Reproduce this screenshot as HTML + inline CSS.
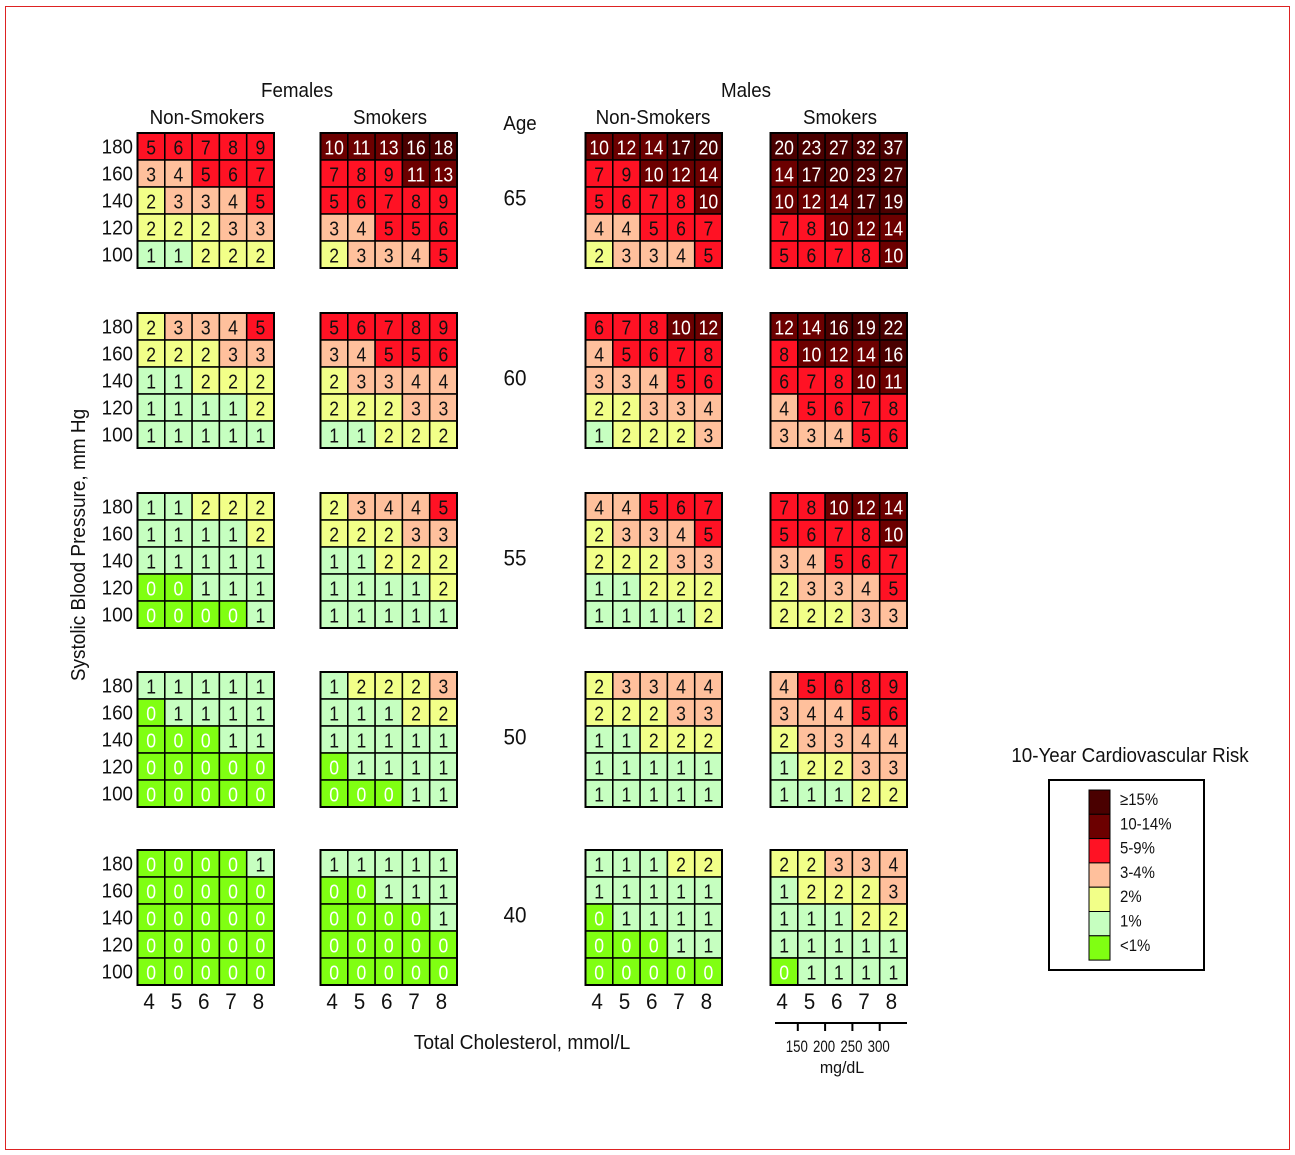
<!DOCTYPE html>
<html><head><meta charset="utf-8"><style>
body{margin:0;background:#fff}
svg{display:block}
text{font-family:"Liberation Sans",sans-serif;fill:#111}
</style></head><body>
<svg id="chart" width="1295" height="1155" xmlns="http://www.w3.org/2000/svg">
<rect x="5.5" y="6.5" width="1284" height="1143" fill="#fff" stroke="#d22" stroke-width="1"/>
</svg>
<script>
const ages = [65, 60, 55, 50, 40];
const bpLabels = [180, 160, 140, 120, 100];
const cholLabels = [4, 5, 6, 7, 8];
const mgLabels = [150, 200, 250, 300];
const groupNames = ['female-nonsmokers','female-smokers','male-nonsmokers','male-smokers'];
const femaleNonSmokers = [
 [[5,6,7,8,9],[3,4,5,6,7],[2,3,3,4,5],[2,2,2,3,3],[1,1,2,2,2]],
 [[2,3,3,4,5],[2,2,2,3,3],[1,1,2,2,2],[1,1,1,1,2],[1,1,1,1,1]],
 [[1,1,2,2,2],[1,1,1,1,2],[1,1,1,1,1],[0,0,1,1,1],[0,0,0,0,1]],
 [[1,1,1,1,1],[0,1,1,1,1],[0,0,0,1,1],[0,0,0,0,0],[0,0,0,0,0]],
 [[0,0,0,0,1],[0,0,0,0,0],[0,0,0,0,0],[0,0,0,0,0],[0,0,0,0,0]]];
const femaleSmokers = [
 [[10,11,13,16,18],[7,8,9,11,13],[5,6,7,8,9],[3,4,5,5,6],[2,3,3,4,5]],
 [[5,6,7,8,9],[3,4,5,5,6],[2,3,3,4,4],[2,2,2,3,3],[1,1,2,2,2]],
 [[2,3,4,4,5],[2,2,2,3,3],[1,1,2,2,2],[1,1,1,1,2],[1,1,1,1,1]],
 [[1,2,2,2,3],[1,1,1,2,2],[1,1,1,1,1],[0,1,1,1,1],[0,0,0,1,1]],
 [[1,1,1,1,1],[0,0,1,1,1],[0,0,0,0,1],[0,0,0,0,0],[0,0,0,0,0]]];
const maleNonSmokers = [
 [[10,12,14,17,20],[7,9,10,12,14],[5,6,7,8,10],[4,4,5,6,7],[2,3,3,4,5]],
 [[6,7,8,10,12],[4,5,6,7,8],[3,3,4,5,6],[2,2,3,3,4],[1,2,2,2,3]],
 [[4,4,5,6,7],[2,3,3,4,5],[2,2,2,3,3],[1,1,2,2,2],[1,1,1,1,2]],
 [[2,3,3,4,4],[2,2,2,3,3],[1,1,2,2,2],[1,1,1,1,1],[1,1,1,1,1]],
 [[1,1,1,2,2],[1,1,1,1,1],[0,1,1,1,1],[0,0,0,1,1],[0,0,0,0,0]]];
const maleSmokers = [
 [[20,23,27,32,37],[14,17,20,23,27],[10,12,14,17,19],[7,8,10,12,14],[5,6,7,8,10]],
 [[12,14,16,19,22],[8,10,12,14,16],[6,7,8,10,11],[4,5,6,7,8],[3,3,4,5,6]],
 [[7,8,10,12,14],[5,6,7,8,10],[3,4,5,6,7],[2,3,3,4,5],[2,2,2,3,3]],
 [[4,5,6,8,9],[3,4,4,5,6],[2,3,3,4,4],[1,2,2,3,3],[1,1,1,2,2]],
 [[2,2,3,3,4],[1,2,2,2,3],[1,1,1,2,2],[1,1,1,1,1],[0,1,1,1,1]]];
const legendLabels = ['≥15%','10-14%','5-9%','3-4%','2%','1%','<1%'];

const groups = [femaleNonSmokers, femaleSmokers, maleNonSmokers, maleSmokers];
const svg = document.getElementById('chart');
const NS = 'http://www.w3.org/2000/svg';
const gridX = [137.5, 320.5, 585.5, 770.5];
const ageY = [133, 313, 493, 672, 850];
const CW = 27.3, CH = 27;
const colX = (g, c) => gridX[g] + c * CW;
const rowY = (a, r) => ageY[a] + r * CH;
function color(v){
  if (v >= 15) return '#4a0000';
  if (v >= 10) return '#6c0000';
  if (v >= 5) return '#ff1224';
  if (v >= 3) return '#ffc09c';
  if (v >= 2) return '#f2ff88';
  if (v >= 1) return '#c6ffc0';
  return '#80ff12';
}
function el(tag, attrs, parent){
  const e = document.createElementNS(NS, tag);
  for (const k in attrs) e.setAttribute(k, attrs[k]);
  (parent || svg).appendChild(e);
  return e;
}
function txt(x, y, s, size, anchor, fill, parent, sx){
  const t = el('text', {transform:`translate(${x},${y}) scale(${sx||0.94},1)`, 'font-size':size, 'text-anchor':anchor||'middle'}, parent);
  if (fill) t.style.fill = fill;
  t.textContent = s;
  return t;
}
let t;
t = txt(297, 97, 'Females', 20);


t = txt(746, 97, 'Males', 20);


const subs = [['Non-Smokers',207],['Smokers',390],['Non-Smokers',653],['Smokers',840]];
subs.forEach(s => {
  t = txt(s[1], 124, s[0], 20);
  
  
});
t = txt(520, 130, 'Age', 20);



groups.forEach((data, g) => {
  ages.forEach((age, a) => {
    const grid = el('g', {});
    
    
    data[a].forEach((row, r) => {
      row.forEach((v, c) => {
        const rc = el('rect', {x:colX(g,c), y:rowY(a,r), width:CW, height:CH, fill:color(v), stroke:'#000', 'stroke-width':1.5}, grid);
        
        
        const tt = txt(colX(g,c) + CW/2, rowY(a,r) + CH/2 + 8, String(v), 20, 'middle', (v >= 10 || v < 1) ? '#fff' : '#111', grid, 0.88);
        
        
      });
    });
    el('rect', {x:colX(g,0), y:rowY(a,0), width:CW*5, height:CH*5, fill:'none', stroke:'#000', 'stroke-width':2}, grid);
  });
});
ages.forEach((age, a) => {
  bpLabels.forEach((bp, r) => {
    const l = txt(133, rowY(a,r) + CH/2 + 7, String(bp), 20, 'end');
    
    
  });
  const al = txt(515, rowY(a,2) + CH/2 + 5, String(age), 22);
  
  
});
gridX.forEach((gx, g) => {
  cholLabels.forEach((c, i) => {
    const l = txt(colX(g,i) + CW/2 - 2, 1009, String(c), 22);
    
    
  });
});
const mgAxis = el('line', {x1:775, y1:1023, x2:907, y2:1023, stroke:'#000', 'stroke-width':2});


mgLabels.forEach((m, i) => {
  const x = colX(3, i) + CW;
  const tk = el('line', {x1:x, y1:1023, x2:x, y2:1031, stroke:'#000', 'stroke-width':2});
  
  
  const l = txt(x - 1, 1052, String(m), 17, 'middle', null, null, 0.78);
  
  
});
t = txt(842, 1073, 'mg/dL', 17);


t = txt(522, 1049, 'Total Cholesterol, mmol/L', 20, 'middle', null, null, 0.96);


t = el('text', {transform:'translate(85,545) rotate(-90) scale(0.95,1)', 'font-size':20, 'text-anchor':'middle'});
t.textContent = 'Systolic Blood Pressure, mm Hg';


t = txt(1130, 762, '10-Year Cardiovascular Risk', 20);


const lb = el('rect', {x:1049, y:780, width:155, height:190, fill:'#fff', stroke:'#000', 'stroke-width':2});


const legendColors = ['#4a0000','#6c0000','#ff1224','#ffc09c','#f2ff88','#c6ffc0','#80ff12'];
legendLabels.forEach((lab, i) => {
  const y = 790 + i * 24.3;
  const sw = el('rect', {x:1089, y:y, width:21, height:24.3, fill:legendColors[i], stroke:'#000', 'stroke-width':1});
  
  
  const l = txt(1120, y + 15, lab, 17, 'start', null, null, 0.88);
  
  
});
</script>
</body></html>
